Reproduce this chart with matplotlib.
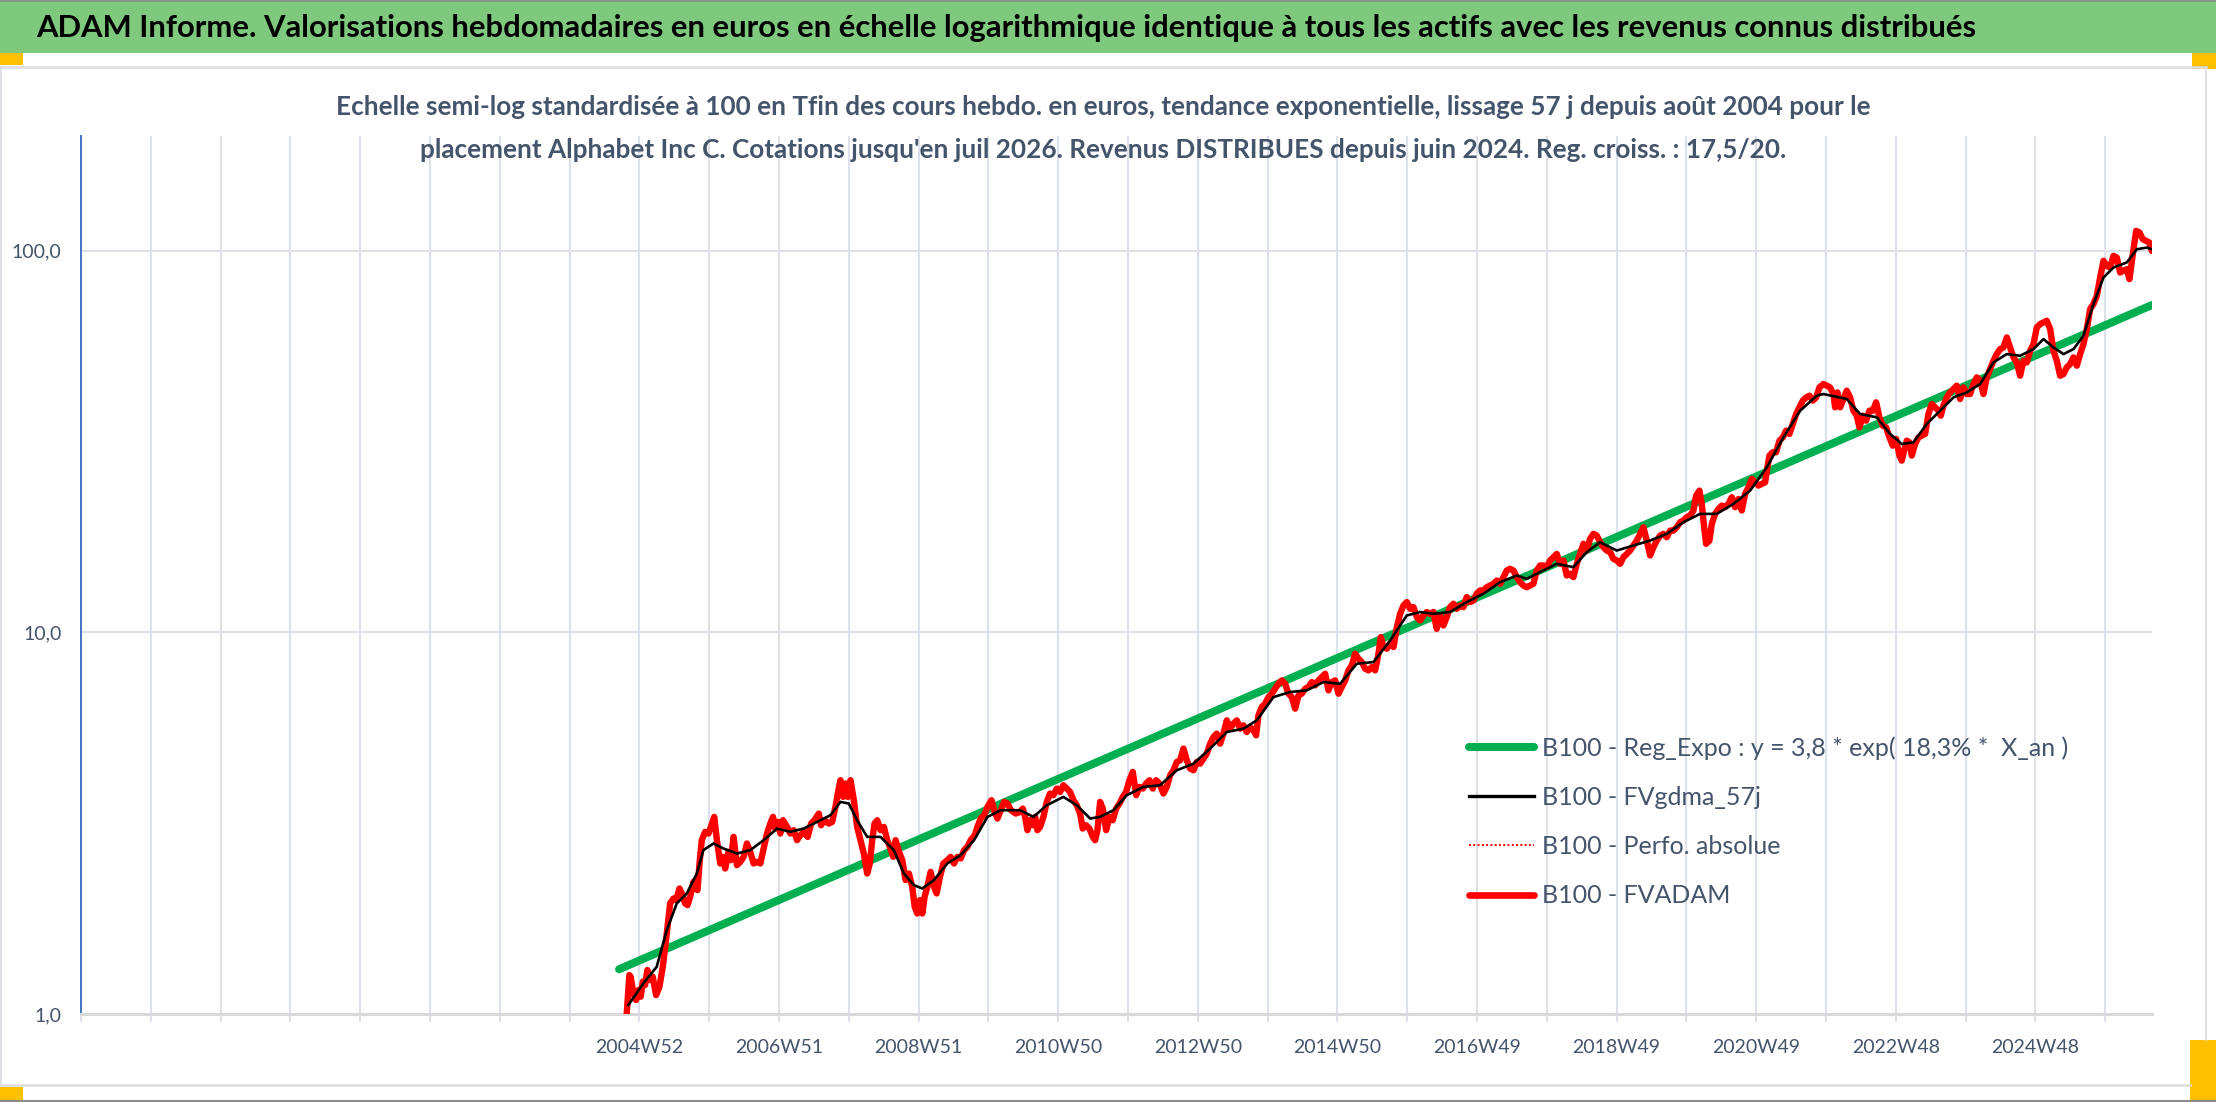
import matplotlib
matplotlib.use("Agg")
import numpy as np
import matplotlib.pyplot as plt
from matplotlib.patches import Rectangle
from matplotlib.lines import Line2D
from matplotlib.ticker import NullLocator

plt.rcParams['font.family'] = ['Lato', 'DejaVu Sans']

W, H = 2216, 1102
TEXT = '#44546A'
GRID = '#DCE1EA'

title = ("ADAM Informe. Valorisations hebdomadaires en euros en échelle logarithmique "
         "identique à tous les actifs avec les revenus connus distribués")
subtitle_1 = ("Echelle semi-log standardisée à 100 en Tfin des cours hebdo. en euros, tendance "
              "exponentielle, lissage 57 j depuis août 2004 pour le")
subtitle_2 = ("placement Alphabet Inc C. Cotations jusqu'en juil 2026. Revenus DISTRIBUES "
              "depuis juin 2024. Reg. croiss. : 17,5/20.")

# category axis: one gridline every 52 weeks, a label every 104 weeks
week_labels = ['2004W52', '2006W51', '2008W51', '2010W50', '2012W50', '2014W50',
               '2016W49', '2018W49', '2020W49', '2022W48', '2024W48']
label_pos = [2005, 2007, 2009, 2011, 2013, 2015, 2017, 2019, 2021, 2023, 2025]

y_ticks = [1, 10, 100]
y_labels = ['1,0', '10,0', '100,0']

# regression line (exponential, straight on the log scale)
green_t = [2004.71, 2026.667]
green_v = [1.31, 72.1]

# FVADAM, weekly values (time in 52-week years)
red_t = [
    2004.819, 2004.857, 2004.876, 2004.915, 2004.953, 2004.986, 2005.020, 2005.049, 2005.082, 2005.115,
    2005.154, 2005.192, 2005.240, 2005.288, 2005.336, 2005.393, 2005.441, 2005.489, 2005.527, 2005.575,
    2005.608, 2005.656, 2005.690, 2005.728, 2005.776, 2005.833, 2005.862, 2005.895, 2005.943, 2005.991,
    2006.025, 2006.073, 2006.111, 2006.159, 2006.197, 2006.230, 2006.278, 2006.312, 2006.350, 2006.398,
    2006.446, 2006.494, 2006.541, 2006.589, 2006.637, 2006.685, 2006.733, 2006.781, 2006.829, 2006.876,
    2006.915, 2006.948, 2006.986, 2007.020, 2007.058, 2007.116, 2007.163, 2007.211, 2007.259, 2007.307,
    2007.355, 2007.412, 2007.460, 2007.508, 2007.570, 2007.604, 2007.652, 2007.714, 2007.762, 2007.809,
    2007.843, 2007.881, 2007.920, 2007.953, 2007.987, 2008.025, 2008.073, 2008.120, 2008.168, 2008.216,
    2008.264, 2008.302, 2008.336, 2008.369, 2008.408, 2008.455, 2008.503, 2008.551, 2008.589, 2008.637,
    2008.671, 2008.719, 2008.767, 2008.814, 2008.862, 2008.910, 2008.944, 2008.982, 2009.020, 2009.054,
    2009.087, 2009.125, 2009.173, 2009.221, 2009.259, 2009.307, 2009.355, 2009.412, 2009.460, 2009.508,
    2009.556, 2009.604, 2009.652, 2009.700, 2009.747, 2009.805, 2009.843, 2009.891, 2009.939, 2009.987,
    2010.044, 2010.082, 2010.130, 2010.178, 2010.226, 2010.274, 2010.322, 2010.393,
    2010.455, 2010.493, 2010.526, 2010.560, 2010.598, 2010.636, 2010.670, 2010.703, 2010.741, 2010.789,
    2010.837, 2010.884, 2010.932, 2010.980, 2011.028, 2011.075, 2011.123, 2011.171, 2011.219, 2011.266,
    2011.314, 2011.352, 2011.400, 2011.448, 2011.496, 2011.529, 2011.563, 2011.601, 2011.639, 2011.687,
    2011.735, 2011.782, 2011.830, 2011.878, 2011.926, 2011.973, 2012.021, 2012.069, 2012.117, 2012.164,
    2012.212, 2012.260, 2012.308, 2012.355, 2012.403, 2012.451, 2012.508, 2012.556, 2012.604, 2012.652,
    2012.699, 2012.747, 2012.795, 2012.843, 2012.890, 2012.938, 2012.986, 2013.034, 2013.081, 2013.129,
    2013.177, 2013.225, 2013.272, 2013.320, 2013.368, 2013.416, 2013.463, 2013.511, 2013.559, 2013.607,
    2013.654, 2013.702, 2013.750, 2013.798, 2013.836, 2013.869, 2013.917, 2013.965, 2014.013, 2014.060,
    2014.108, 2014.156, 2014.204, 2014.251, 2014.299, 2014.347, 2014.395, 2014.443, 2014.490, 2014.538,
    2014.586, 2014.634, 2014.681, 2014.729, 2014.777, 2014.825, 2014.872, 2014.920, 2014.968, 2015.016,
    2015.063, 2015.111, 2015.159, 2015.207, 2015.254, 2015.302, 2015.350, 2015.398, 2015.445, 2015.493,
    2015.541, 2015.589, 2015.622, 2015.660, 2015.708, 2015.756, 2015.804, 2015.852, 2015.899, 2015.947,
    2015.995, 2016.043, 2016.090, 2016.138, 2016.186,
    2016.232, 2016.280, 2016.328, 2016.376, 2016.423, 2016.471, 2016.519, 2016.567, 2016.614, 2016.662,
    2016.710, 2016.758, 2016.805, 2016.853, 2016.901, 2016.949, 2016.996, 2017.044, 2017.092, 2017.140,
    2017.188, 2017.235, 2017.283, 2017.331, 2017.379, 2017.426, 2017.474, 2017.522, 2017.570, 2017.617,
    2017.665, 2017.713, 2017.761, 2017.808, 2017.856, 2017.904, 2017.952, 2018.000, 2018.047, 2018.095,
    2018.143, 2018.190, 2018.238, 2018.286, 2018.334, 2018.381, 2018.429, 2018.477, 2018.525, 2018.572,
    2018.620, 2018.668, 2018.716, 2018.764, 2018.811, 2018.859, 2018.907, 2018.955, 2019.002, 2019.050,
    2019.098, 2019.146, 2019.193, 2019.241, 2019.289, 2019.337, 2019.384, 2019.432, 2019.480, 2019.528,
    2019.576, 2019.623, 2019.671, 2019.719, 2019.767, 2019.814, 2019.862, 2019.910, 2019.958, 2020.005,
    2020.053, 2020.101, 2020.139, 2020.187, 2020.220, 2020.254, 2020.282, 2020.330, 2020.364, 2020.411,
    2020.459, 2020.507, 2020.555, 2020.602, 2020.650, 2020.698, 2020.746, 2020.793, 2020.841, 2020.889,
    2020.937, 2020.984, 2021.032, 2021.080, 2021.128, 2021.152, 2021.190, 2021.238, 2021.285, 2021.333,
    2021.381, 2021.429, 2021.476, 2021.524, 2021.572, 2021.620, 2021.667, 2021.715, 2021.763, 2021.811,
    2021.859, 2021.906,
    2021.963, 2022.011, 2022.058, 2022.106, 2022.130, 2022.163, 2022.202, 2022.249, 2022.297, 2022.345,
    2022.393, 2022.440, 2022.479, 2022.526, 2022.574, 2022.622, 2022.670, 2022.718, 2022.765, 2022.813,
    2022.861, 2022.909, 2022.956, 2023.004, 2023.052, 2023.085, 2023.119, 2023.157, 2023.195, 2023.229,
    2023.276, 2023.324, 2023.372, 2023.420, 2023.467, 2023.515, 2023.563, 2023.611, 2023.644, 2023.682,
    2023.730, 2023.778, 2023.826, 2023.873, 2023.921, 2023.969, 2024.017, 2024.064, 2024.112, 2024.160,
    2024.208, 2024.255, 2024.303, 2024.351, 2024.399, 2024.446, 2024.494, 2024.542, 2024.590, 2024.637,
    2024.685, 2024.733, 2024.781, 2024.828, 2024.876, 2024.924, 2024.972, 2025.020, 2025.067, 2025.115,
    2025.163, 2025.211, 2025.258, 2025.306, 2025.354, 2025.402, 2025.449, 2025.497, 2025.545, 2025.593,
    2025.640, 2025.688, 2025.736, 2025.784, 2025.831, 2025.879, 2025.927, 2025.975, 2026.022, 2026.070,
    2026.118, 2026.166, 2026.214, 2026.261, 2026.309, 2026.347, 2026.395, 2026.443, 2026.491, 2026.538,
    2026.586, 2026.634, 2026.667,
]
red_v = [
    1.00, 1.265, 1.252, 1.132, 1.088, 1.156, 1.110, 1.215, 1.191, 1.304,
    1.227, 1.252, 1.121, 1.179, 1.330, 1.626, 1.949, 2.008, 1.988, 2.133,
    2.070, 1.949, 1.929, 2.029, 2.220, 2.112, 2.480, 2.855, 3.002, 2.972,
    3.093, 3.286, 2.855, 2.480, 2.581, 2.406, 2.661, 2.530, 2.912, 2.455,
    2.505, 2.581, 2.798, 2.661, 2.480, 2.505, 2.480, 2.715, 2.972, 3.155,
    3.286, 3.062, 3.187, 2.972, 3.220, 3.093, 2.972, 3.032, 2.855, 2.942,
    3.002, 2.912, 3.155, 3.220, 3.352, 3.124, 3.220, 3.155, 3.187, 3.489,
    3.783, 4.099, 3.707, 4.017, 3.707, 4.099, 3.633, 3.093, 2.855, 2.634,
    2.334, 2.480, 2.855, 3.155, 3.220, 3.032, 3.093, 2.855, 2.742, 2.581,
    2.855, 2.661, 2.530, 2.243, 2.334, 2.154, 1.910, 1.834, 1.988, 1.834,
    2.029, 2.154, 2.358, 2.154, 2.070, 2.288, 2.480, 2.530, 2.581, 2.480,
    2.581, 2.556, 2.688, 2.742, 2.855, 2.942, 3.093, 3.253, 3.319, 3.489,
    3.633, 3.420, 3.253, 3.420, 3.597, 3.561, 3.420, 3.352,
    3.386, 3.455, 3.286, 3.032, 3.220, 3.124, 3.286, 3.032, 3.093, 3.286,
    3.597, 3.783, 3.745, 3.898, 3.819, 3.977, 3.898, 3.819, 3.633, 3.525,
    3.352, 3.062, 3.124, 3.062, 2.912, 2.855, 3.032, 3.597, 3.455, 3.032,
    3.286, 3.220, 3.455, 3.561, 3.707, 3.819, 4.099, 4.309, 3.745, 3.937,
    3.898, 4.017, 4.099, 3.898, 4.099, 4.017, 3.783, 3.937, 4.224, 4.352,
    4.576, 4.622, 4.961, 4.622, 4.396, 4.352, 4.576, 4.530, 4.669, 4.812,
    5.111, 5.321, 5.429, 5.111, 5.429, 5.884, 5.595, 5.767, 5.884, 5.595,
    5.709, 5.483, 5.652, 5.539, 5.375, 6.064, 6.376, 6.506, 6.771, 6.909,
    7.121, 7.338, 7.487, 7.338, 6.909, 6.771, 6.313, 6.840, 6.909, 7.121,
    7.193, 7.413, 7.265, 7.487, 7.640, 7.795, 7.050, 7.413, 7.487, 6.909,
    7.193, 7.487, 7.953, 8.196, 8.795, 8.534, 8.362, 8.034, 7.953, 8.115,
    7.953, 8.795, 9.723, 9.155, 9.063, 9.339, 9.155, 10.33, 11.19, 11.77,
    12.01, 11.53, 11.65, 10.97, 10.75,
    11.08, 11.31, 11.19, 11.31, 10.22, 11.08, 10.43, 10.97, 11.65, 11.89,
    11.53, 11.77, 11.65, 12.38, 12.01, 12.13, 12.63, 12.88, 12.88, 13.14,
    13.27, 13.41, 13.68, 13.41, 13.96, 14.53, 14.68, 14.53, 13.96, 13.54,
    13.27, 13.14, 13.27, 13.41, 14.53, 14.98, 14.98, 14.83, 15.44, 15.75,
    16.06, 15.13, 15.44, 14.10, 14.25, 13.96, 15.13, 16.06, 17.07, 16.39,
    17.59, 18.13, 17.94, 17.24, 16.73, 16.39, 16.23, 15.59, 15.44, 15.13,
    15.75, 16.06, 16.39, 16.90, 17.41, 18.13, 18.87, 17.41, 15.91, 16.73,
    17.41, 17.94, 18.13, 17.77, 18.49, 18.49, 18.87, 19.45, 19.65, 20.05,
    20.25, 20.87, 22.84, 23.53, 21.72, 18.87, 17.07, 17.41, 19.25, 20.45,
    21.07, 21.50, 21.29, 21.72, 22.61, 21.29, 22.38, 20.87, 23.07, 24.02,
    25.26, 24.75, 24.26, 24.50, 24.75, 26.55, 29.07, 29.66, 29.66, 31.81,
    32.45, 33.80, 33.12, 35.18, 37.36, 38.90, 40.50, 41.30, 41.73, 40.50,
    41.30, 43.87,
    44.77, 44.33, 43.87, 42.15, 38.90, 42.57, 38.90, 40.90, 43.01, 41.30,
    38.12, 36.99, 34.47, 36.99, 35.89, 38.12, 38.12, 40.09, 36.62, 34.83,
    34.47, 32.45, 30.87, 32.14, 29.07, 28.20, 29.96, 31.81, 31.49, 29.07,
    31.18, 32.45, 32.79, 33.12, 37.36, 39.68, 38.90, 38.12, 36.99, 39.29,
    41.30, 42.57, 43.44, 44.33, 40.90, 43.87, 42.15, 42.15, 44.77, 46.61,
    45.68, 42.15, 46.61, 49.00, 51.52, 53.64, 55.28, 55.83, 59.31, 55.83,
    52.57, 51.01, 47.08, 51.52, 51.01, 54.73, 56.97, 63.01, 64.27, 64.92,
    65.58, 62.38, 54.73, 51.52, 47.08, 47.55, 49.50, 50.50, 52.57, 50.01,
    53.64, 56.97, 62.38, 70.37, 72.53, 76.24, 85.15, 94.15, 91.35, 90.44,
    97.03, 96.05, 87.79, 88.65, 89.54, 84.30, 98.00, 112.8, 111.7, 107.3,
    106.2, 105.1, 100.0,
]

# FVgdma_57j, the smoothed curve
black_t = [
    2004.843, 2005.058, 2005.249, 2005.393, 2005.536, 2005.680, 2005.823, 2005.918, 2006.062, 2006.205,
    2006.398, 2006.589, 2006.781, 2006.972, 2007.163, 2007.355, 2007.546, 2007.738, 2007.881, 2008.001,
    2008.120, 2008.264, 2008.455, 2008.646, 2008.790, 2008.933, 2009.054, 2009.221, 2009.412, 2009.604,
    2009.795, 2009.987, 2010.178, 2010.369,
    2010.455, 2010.646, 2010.837, 2011.075, 2011.266, 2011.458, 2011.601, 2011.792, 2011.983, 2012.222,
    2012.460, 2012.699, 2012.938, 2013.177, 2013.416, 2013.654, 2013.846, 2014.084, 2014.323, 2014.562,
    2014.801, 2015.040, 2015.278, 2015.517, 2015.756, 2015.995,
    2016.185, 2016.376, 2016.614, 2016.853, 2017.092, 2017.331, 2017.570, 2017.713, 2017.904, 2018.143,
    2018.381, 2018.572, 2018.764, 2019.002, 2019.241, 2019.480, 2019.719, 2019.958, 2020.196, 2020.435,
    2020.674, 2020.913, 2021.152, 2021.390, 2021.629, 2021.868,
    2021.963, 2022.297, 2022.488, 2022.727, 2022.918, 2023.085, 2023.252, 2023.443, 2023.635, 2023.826,
    2024.017, 2024.208, 2024.399, 2024.590, 2024.781, 2024.972, 2025.115, 2025.258, 2025.402, 2025.545,
    2025.688, 2025.831, 2025.975, 2026.118, 2026.309, 2026.453, 2026.596, 2026.667,
]
black_v = [
    1.056, 1.203, 1.330, 1.659, 1.949, 2.070, 2.334, 2.688, 2.798, 2.715,
    2.634, 2.688, 2.855, 3.062, 3.002, 3.062, 3.187, 3.319, 3.597, 3.561,
    3.220, 2.912, 2.912, 2.688, 2.334, 2.176, 2.133, 2.243, 2.480, 2.608,
    2.855, 3.286, 3.420, 3.420,
    3.420, 3.286, 3.525, 3.707, 3.525, 3.253, 3.286, 3.420, 3.745, 3.937,
    3.977, 4.352, 4.530, 4.961, 5.483, 5.595, 5.884, 6.771, 6.979, 7.050,
    7.413, 7.338, 8.279, 8.362, 9.529, 11.08,
    11.31, 11.19, 11.31, 12.01, 12.63, 13.54, 14.10, 13.82, 14.39, 15.13,
    14.83, 16.23, 17.24, 16.39, 16.90, 17.41, 18.13, 19.45, 20.45, 20.45,
    21.72, 23.53, 27.09, 32.45, 38.12, 41.73,
    42.15, 40.90, 37.36, 36.62, 33.12, 31.18, 31.49, 35.18, 38.12, 41.30,
    42.57, 44.77, 51.01, 53.64, 53.10, 55.28, 58.73, 55.83, 53.64, 55.28,
    59.91, 72.53, 85.15, 90.44, 93.25, 101.0, 102.0, 101.0,
]

fig = plt.figure(figsize=(W / 100, H / 100), dpi=100)


def px_rect(x, y, w, h, color):
    fig.add_artist(Rectangle((x / W, 1 - (y + h) / H), w / W, h / H, transform=fig.transFigure,
                             facecolor=color, edgecolor='none', zorder=0))


def px_line(x0, y0, x1, y1, color, lw):
    fig.add_artist(Line2D([x0 / W, x1 / W], [1 - y0 / H, 1 - y1 / H], transform=fig.transFigure,
                          color=color, lw=lw, zorder=1))


# banner and frame of the sheet
px_rect(0, 0, W, 53, '#7FC97F')
px_line(0, 0.5, W, 0.5, '#8C8C8C', 1.2)
px_rect(0, 53, 23, 12, '#FFC000')
px_rect(2192, 53, 24, 16, '#FFC000')
px_rect(0, 1087, 23, 13, '#FFC000')
px_rect(2190, 1040, 26, 62, '#FFC000')
px_line(0, 67, 2206, 67, '#DADCE0', 1.8)
px_line(0, 1085, 2190, 1085, '#DADCE0', 1.8)
px_line(1, 67, 1, 1085, '#DADCE0', 1.2)
px_line(2206, 67, 2206, 1040, '#DADCE0', 1.2)
px_line(0, 1101, W, 1101, '#8C8C8C', 1.5)

fig.text(36 / W, 1 - 28 / H, title, ha='left', va='center', fontsize=22.3,
         fontweight='bold', color='black')
fig.text(1103 / W, 1 - 107 / H, subtitle_1, ha='center', va='center', fontsize=18.8,
         fontweight='bold', color=TEXT)
fig.text(1103 / W, 1 - 150 / H, subtitle_2, ha='center', va='center', fontsize=18.8,
         fontweight='bold', color=TEXT)

ax = fig.add_axes([80.9 / W, 1 - 1014 / H, (2152 - 80.9) / W, (1014 - 136) / H])
ax.set_yscale('log')
ax.set_xlim(1997, 2026.67)
ax.set_ylim(1, 200)

ax.plot(green_t, green_v, color='#00B050', lw=5.8, solid_capstyle='round', zorder=3)
ax.plot(red_t, red_v, color='#FF0000', lw=1.2, ls=(0, (1, 1.5)), zorder=3.5)
ax.plot(red_t, red_v, color='#FF0000', lw=4.6, solid_joinstyle='round',
        solid_capstyle='round', zorder=4)
ax.plot(black_t, black_v, color='black', lw=1.9, zorder=5)

ax.set_yticks(y_ticks)
ax.set_yticklabels(y_labels)
ax.yaxis.set_minor_locator(NullLocator())
ax.tick_params(axis='y', length=0, pad=14, labelsize=14, labelcolor=TEXT)

grid_years = np.arange(1997, 2027)
ax.set_xticks(grid_years)
names = dict(zip(label_pos, week_labels))
ax.set_xticklabels([names.get(int(g), '') for g in grid_years])
ax.tick_params(axis='x', length=6, width=1.5, color=GRID, pad=12, labelsize=14,
               labelcolor=TEXT)
ax.grid(axis='x', color=GRID, lw=1.5, zorder=0)
ax.grid(axis='y', color=GRID, lw=1.5, zorder=0)

for s in ['top', 'right']:
    ax.spines[s].set_visible(False)
ax.spines['left'].set_color('#4472C4')
ax.spines['left'].set_linewidth(1.4)
ax.spines['bottom'].set_color('#D9D9D9')
ax.spines['bottom'].set_linewidth(2.2)

handles = [
    Line2D([], [], color='#00B050', lw=5.8, solid_capstyle='round'),
    Line2D([], [], color='black', lw=2.4),
    Line2D([], [], color='#FF0000', lw=1.4, ls=(0, (1, 1.2))),
    Line2D([], [], color='#FF0000', lw=4.8, solid_capstyle='round'),
]
labels = [
    'B100 - Reg_Expo : y = 3,8 * exp( 18,3% *  X_an )',
    'B100 - FVgdma_57j',
    'B100 - Perfo. absolue',
    'B100 - FVADAM',
]
leg = fig.legend(handles, labels, loc='upper left', bbox_to_anchor=(1469 / W, 1 - 736 / H),
                 frameon=False, fontsize=18, handlelength=2.6, handletextpad=0.3,
                 labelspacing=1.05, borderpad=0, borderaxespad=0)
for t in leg.get_texts():
    t.set_color(TEXT)

fig.savefig('out.png', dpi=100)
